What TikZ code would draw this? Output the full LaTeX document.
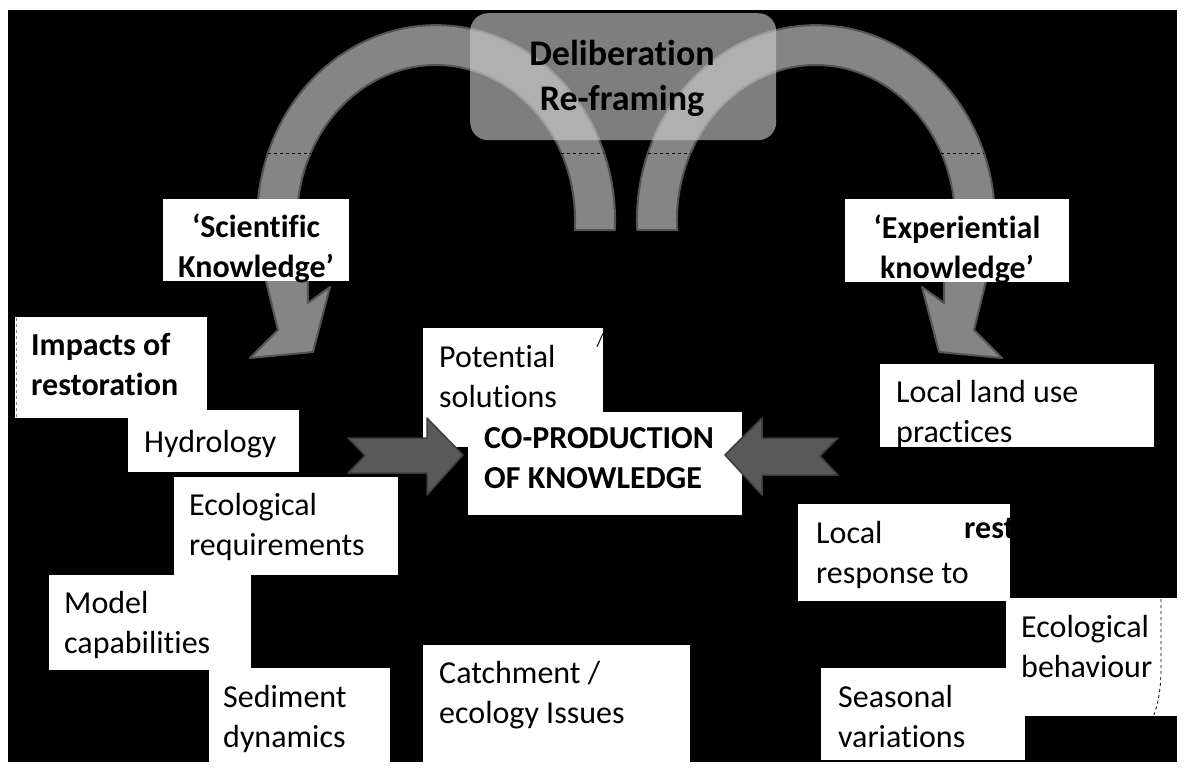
\documentclass[tikz,border=0pt]{standalone}
\usepackage{fontspec}
\setmainfont{Carlito}[Ligatures={TeX,NoCommon}]

\definecolor{bandgray}{gray}{0.52}
\definecolor{bandedge}{gray}{0.33}
\definecolor{blockgray}{gray}{0.35}
\definecolor{blockedge}{gray}{0.24}
\definecolor{panelgray}{gray}{0.8}

\begin{document}
\begin{tikzpicture}[x=1pt,y=-1pt,
  card/.style={fill=white,inner sep=0pt,outer sep=0pt,anchor=north west},
  txt/.style={font=\fontsize{32}{40}\selectfont,inner sep=0pt,anchor=base west,align=left},
  bold/.style={txt,font=\fontsize{32}{40}\selectfont\bfseries},
  band/.style={fill=bandgray,draw=bandedge,line width=2pt,line join=round},
  block/.style={fill=blockgray,draw=blockedge,line width=1.5pt,line join=round},
  cut/.style={dashed,black,line width=0.8pt}]

  \useasboundingbox (0,0) rectangle (1187,771);
  \fill[white] (0,0) rectangle (1187,771);
  \fill[black] (8,10) rectangle (1177,762);

  % curved arrows
  \draw[band] (614.8,230) arc[start angle=2.9,end angle=-198,x radius=179,y radius=195]
    -- (278,330) -- (250,358) -- (313,352) -- (330,287) -- (308,303)
    -- (307.9,280.1) arc[start angle=-202.8,end angle=3.7,x radius=139,y radius=155] -- cycle;
  \draw[band] (637.2,230) arc[start angle=177.1,end angle=378,x radius=179,y radius=195]
    -- (974,330) -- (1002,358) -- (939,352) -- (922,287) -- (944,303)
    -- (944.1,280.1) arc[start angle=382.8,end angle=176.3,x radius=139,y radius=155] -- cycle;
  \draw[cut] (268,153) -- (311,153);
  \draw[cut] (561,153) -- (604,153);
  \draw[cut] (648,153) -- (691,153);
  \draw[cut] (941,153) -- (984,153);

  \node[fill=panelgray,fill opacity=0.62,rounded corners=18pt,inner sep=0pt,
    minimum width=306pt,minimum height=127pt,anchor=north west] (delib) at (470,13) {};
  \node[font=\fontsize{36}{45}\selectfont\bfseries,inner sep=0pt,align=center,anchor=base]
    (delibt) at (622,110) {Deliberation\\Re-framing};

  % boxes
  \node[card,minimum width=186pt,minimum height=82pt] (sci) at (163,199) {};
  \node[card,minimum width=224pt,minimum height=83pt] (exp) at (845,199) {};
  \node[card,minimum width=192pt,minimum height=101pt] (impacts) at (15,317) {};
  \node[card,minimum width=171pt,minimum height=62pt] (hydro) at (128,410) {};
  \node[card,minimum width=224pt,minimum height=98pt] (ecoreq) at (174,477) {};
  \node[card,minimum width=202pt,minimum height=95pt] (model) at (49,575) {};
  \node[card,minimum width=181pt,minimum height=95pt] (sediment) at (209,668) {};
  \node[card,minimum width=180pt,minimum height=119pt] (potential) at (423,328) {};
  \node[card,minimum width=274pt,minimum height=103pt] (coprod) at (468,412) {};
  \node[card,minimum width=267pt,minimum height=118pt] (catch) at (423,645) {};
  \node[card,minimum width=274pt,minimum height=83pt] (landuse) at (880,364) {};
  \node[card,minimum width=212pt,minimum height=97pt] (response) at (798,504) {};
  \node[card,minimum width=171pt,minimum height=118pt] (ecobeh) at (1006,598) {};
  \node[card,minimum width=204pt,minimum height=92pt] (seasonal) at (821,668) {};

  \draw[dashed,gray,line width=0.6pt] (16,318) -- (16,417);
  \draw[cut] (1161,599) -- (1161,668) .. controls (1161,690) and (1158,703) .. (1154,715);

  % block arrows
  \draw[block] (348,438) -- (427,438) -- (427,418) -- (463,455) -- (427,495)
    -- (427,473) -- (348,473) -- (365,455.5) -- cycle;
  \draw[block] (838,438) -- (762,438) -- (762,418) -- (725,455) -- (762,495)
    -- (762,475) -- (838,475) -- (820,456) -- cycle;

  % texts (base = last line)
  \node[bold,anchor=base,align=center] (scit) at (256,277) {‘Scientific\\Knowledge’};
  \node[bold,anchor=base,align=center] (expt) at (957,278) {‘Experiential\\knowledge’};
  \node[bold] (impactst) at (31,395) {Impacts of\\restoration};
  \node[txt] (hydrot) at (144,452) {Hydrology};
  \node[txt] (ecoreqt) at (189,555) {Ecological\\requirements};
  \node[txt] (modelt) at (64,653) {Model\\capabilities};
  \node[txt] (sedimentt) at (223,747) {Sediment\\dynamics};
  \node[txt] (potentialt) at (439,407) {Potential\\solutions};
  \node[inner sep=0pt,font=\fontsize{18}{18}\selectfont] (slash) at (600,341) {/};
  \node[bold] (coprodt) at (484,488) {CO-PRODUCTION\\OF KNOWLEDGE};
  \node[txt] (catcht) at (439,723) {Catchment /\\ecology Issues};
  \node[txt] (landuset) at (896,442) {Local land use\\practices};
  \node[txt] (responset) at (816,583) {Local\\response to};
  \node[bold] (rest) at (964,538) {rest};
  \node[txt] (ecobeht) at (1021,677) {Ecological\\behaviour};
  \node[txt] (seasonalt) at (838,747) {Seasonal\\variations};
\end{tikzpicture}
\end{document}
